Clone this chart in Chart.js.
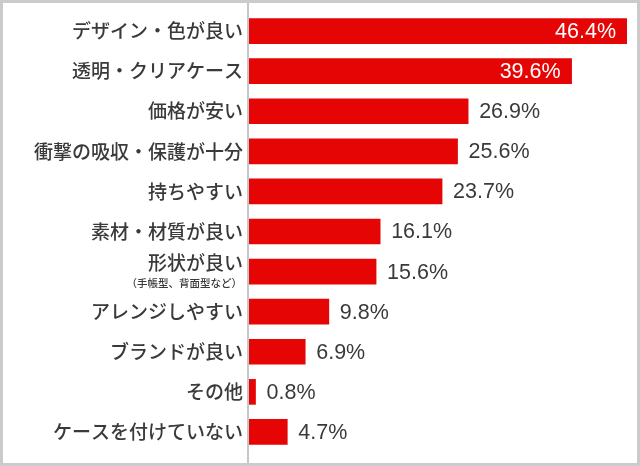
<html>
    <body style="margin:0;background:#fff">
        <div style="width:640px;height:466px;position:relative">
            <canvas id="myChart" width="640" height="466"></canvas>
        </div>
        <script src="https://cdn.jsdelivr.net/npm/chart.js@4.4.1/dist/chart.umd.min.js"></script>
        <script>
            const categories = [
                "デザイン・色が良い",
                "透明・クリアケース",
                "価格が安い",
                "衝撃の吸収・保護が十分",
                "持ちやすい",
                "素材・材質が良い",
                "形状が良い",
                "アレンジしやすい",
                "ブランドが良い",
                "その他",
                "ケースを付けていない"
            ];
            const subLabels = ["", "", "", "", "", "", "（手帳型、背面型など）", "", "", "", ""];
            const values = [46.4, 39.6, 26.9, 25.6, 23.7, 16.1, 15.6, 9.8, 6.9, 0.8, 4.7];

            const jpFont = "'Noto Sans CJK JP', 'Noto Sans', sans-serif";
            const numFont = "'Liberation Sans', Arial, sans-serif";

            // frame, axis line, category labels and value labels
            const decor = {
                id: "decor",
                beforeDraw(chart) {
                    const ctx = chart.ctx;
                    ctx.save();
                    ctx.fillStyle = "#fff";
                    ctx.fillRect(0, 0, chart.width, chart.height);
                    ctx.strokeStyle = "#cbcbcb";
                    ctx.lineWidth = 3;
                    ctx.strokeRect(1.5, 1.5, chart.width - 3, chart.height - 3);
                    ctx.fillStyle = "#c6c6c6";
                    ctx.fillRect(247, 3, 2, chart.height - 6);
                    ctx.restore();
                },
                afterDatasetsDraw(chart) {
                    const ctx = chart.ctx;
                    const y = chart.scales.y;
                    const meta = chart.getDatasetMeta(0);
                    ctx.save();
                    ctx.textBaseline = "middle";
                    categories.forEach((c, i) => {
                        const cy = y.getPixelForValue(i);
                        ctx.fillStyle = "#3a3a3a";
                        ctx.textAlign = "right";
                        ctx.font = "500 19px " + jpFont;
                        if (subLabels[i]) {
                            ctx.fillText(c, 243, cy - 9);
                            ctx.font = "500 10.5px " + jpFont;
                            ctx.fillText(subLabels[i], 242, cy + 11);
                        } else {
                            ctx.fillText(c, 243, cy);
                        }
                        const bar = meta.data[i];
                        ctx.font = "21.5px " + numFont;
                        const txt = values[i].toFixed(1) + "%";
                        if (values[i] > 30) {
                            ctx.fillStyle = "#ffffff";
                            ctx.textAlign = "right";
                            ctx.fillText(txt, bar.x - 11, cy + 1);
                        } else {
                            ctx.fillStyle = "#3a3a3a";
                            ctx.textAlign = "left";
                            ctx.fillText(txt, bar.x + 11, cy + 1);
                        }
                    });
                    ctx.restore();
                }
            };

            new Chart("myChart", {
                type: "bar",
                data: {
                    labels: categories,
                    datasets: [{
                        data: values,
                        backgroundColor: "#e50505",
                        borderWidth: 0,
                        barThickness: 25
                    }]
                },
                options: {
                    indexAxis: "y",
                    responsive: false,
                    animation: false,
                    layout: { padding: { left: 249, right: 13, top: 11, bottom: 14 } },
                    plugins: { legend: { display: false }, tooltip: { enabled: false } },
                    scales: {
                        x: { display: false, min: 0, max: 46.4 },
                        y: { display: false }
                    }
                },
                plugins: [decor]
            });
        </script>
    </body>
</html>
